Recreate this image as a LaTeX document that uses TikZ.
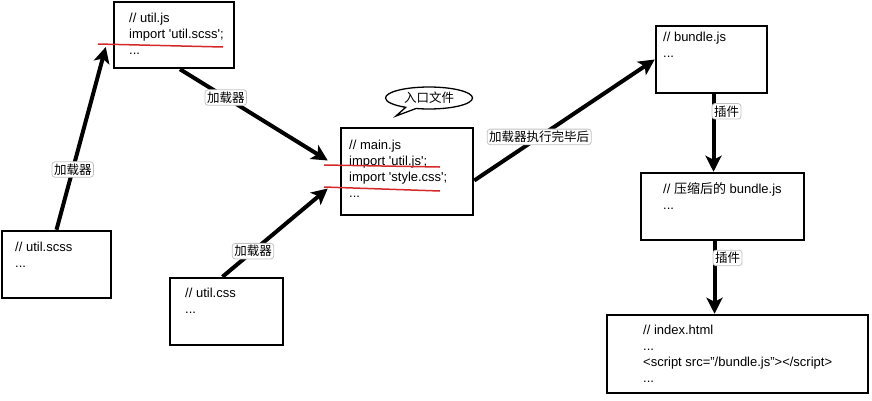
\documentclass[tikz,border=0pt]{standalone}
\usepackage{fontspec}
\setmainfont{Liberation Sans}
\newfontfamily\cjk{Noto Sans CJK SC}
\usetikzlibrary{arrows.meta, shapes.callouts}
\definecolor{cMark}{RGB}{214,40,40}
\definecolor{cFrame}{RGB}{195,195,195}
\tikzset{
	filebox/.style  ={rectangle, draw=black, line width=2.5pt, fill=white},
	codetext/.style ={anchor=north west, inner sep=0pt, align=left, font=\fontsize{13}{16}\selectfont},
	lbl/.style      ={rectangle, rounded corners=3pt, draw=cFrame, line width=0.8pt, fill=white, inner sep=2pt, font=\fontsize{12.5}{15}\selectfont\cjk},
	bubble/.style   ={ellipse callout, draw=black, line width=1.3pt, fill=white, inner sep=0pt, minimum width=87pt, minimum height=22pt, font=\fontsize{12.5}{15}\selectfont\cjk},
	flowarrow/.style={-{Stealth[length=16pt, width=16pt, inset=4pt]}, line width=4pt},
	redmark/.style  ={cMark, line width=1.5pt},
}
\begin{document}
\begin{tikzpicture}[x=1pt, y=-1pt]
	\useasboundingbox (0,0) rectangle (872,400);
	% file boxes
	\node[filebox, minimum width=120pt, minimum height=66pt] (ujs) at (174,35) {};
	\node[filebox, minimum width=109pt, minimum height=67pt] (scss) at (56.5,264.5) {};
	\node[filebox, minimum width=113pt, minimum height=67pt] (ucss) at (226.5,311.5) {};
	\node[filebox, minimum width=132pt, minimum height=87pt] (mainjs) at (407,171.5) {};
	\node[filebox, minimum width=111pt, minimum height=67pt] (bundle) at (711.5,59.5) {};
	\node[filebox, minimum width=163pt, minimum height=67pt] (mini) at (722.5,206.5) {};
	\node[filebox, minimum width=261pt, minimum height=78pt] (index) at (737.5,354) {};
	% file contents
	\node[codetext] (ujstxt) at (129,13) {// util.js\\import \textquotesingle util.scss\textquotesingle;\\...};
	\node[codetext] (scsstxt) at (15,242) {// util.scss\\...};
	\node[codetext] (ucsstxt) at (185,288) {// util.css\\...};
	\node[codetext] (maintxt) at (349,140) {// main.js\\import \textquotesingle util.js\textquotesingle;\\import \textquotesingle style.css\textquotesingle;\\...};
	\node[codetext] (bundletxt) at (663,32) {// bundle.js\\...};
	\node[codetext] (minitxt) at (663,182) {// {\cjk 压缩后的} bundle.js\\...};
	\node[codetext] (indextxt) at (643,325) {// index.html\\...\\<script src="/bundle.js"></script>\\...};
	% red marks
	\draw[redmark] (98,44) -- (223,47);
	\draw[redmark] (324,165) -- (440,167);
	\draw[redmark] (324,187) -- (440,191);
	% entry bubble
	\node[bubble, callout absolute pointer={(396,116)}] (entry) at (429,98) {入口文件};
	% loaders
	\draw[flowarrow] (scss.north) -- node[lbl, pos=.33] {加载器} ([shift={(-7,12)}]ujs.west);
	\draw[flowarrow] ([xshift=6pt]ujs.south) -- node[lbl, pos=.31] {加载器} ([shift={(-12,-11)}]mainjs.west);
	\draw[flowarrow] ([xshift=-4pt]ucss.north) -- node[lbl, pos=.29] {加载器} ([shift={(-12,17)}]mainjs.west);
	\draw[flowarrow] ([shift={(0,9)}]mainjs.east) -- node[lbl, pos=.36] {加载器执行完毕后} (bundle.west);
	% plugins
	\draw[flowarrow] ([xshift=2pt]bundle.south) -- node[lbl, pos=.22, xshift=13pt] {插件} ([xshift=2pt]bundle.south |- mini.north);
	\draw[flowarrow] ([xshift=-8pt]mini.south) -- node[lbl, pos=.23, xshift=13pt] {插件} ([xshift=-8pt]mini.south |- index.north);
\end{tikzpicture}
\end{document}
